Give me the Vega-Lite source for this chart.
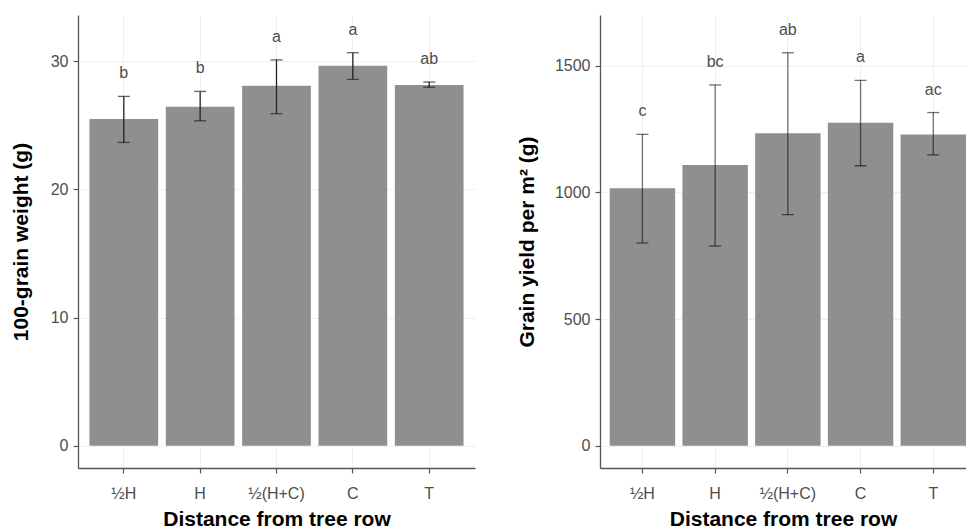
{
  "$schema": "https://vega.github.io/schema/vega-lite/v6.json",
  "padding": {"left": 10, "top": 15, "right": 0, "bottom": 0},
  "background": "white",
  "spacing": 125,
  "bounds": "flush",
  "config": {
    "view": {"stroke": null},
    "font": "Liberation Sans",
    "axis": {
      "labelFont": "Liberation Sans", "labelFontSize": 16, "labelColor": "#4d4d4d",
      "titleFont": "Liberation Sans", "titleFontSize": 21, "titleFontWeight": "bold", "titleColor": "#000000",
      "domainColor": "#555555", "domainWidth": 1.3, "tickColor": "#555555", "tickSize": 5, "tickWidth": 1.2,
      "gridColor": "#f0f0f0", "gridWidth": 1
    },
    "axisX": {"labelPadding": 12, "titlePadding": 7, "labelAngle": 0},
    "axisY": {"labelPadding": 5, "titlePadding": 19}
  },
  "datasets": {
    "weight": [
      {"pos": "½H", "mean": 25.48, "lo": 23.66, "hi": 27.25, "letter": "b"},
      {"pos": "H", "mean": 26.44, "lo": 25.35, "hi": 27.64, "letter": "b"},
      {"pos": "½(H+C)", "mean": 28.08, "lo": 25.9, "hi": 30.1, "letter": "a"},
      {"pos": "C", "mean": 29.64, "lo": 28.58, "hi": 30.66, "letter": "a"},
      {"pos": "T", "mean": 28.13, "lo": 27.96, "hi": 28.37, "letter": "ab"}
    ],
    "yield": [
      {"pos": "½H", "mean": 1016, "lo": 800, "hi": 1229, "letter": "c"},
      {"pos": "H", "mean": 1108, "lo": 788, "hi": 1424, "letter": "bc"},
      {"pos": "½(H+C)", "mean": 1233, "lo": 912, "hi": 1551, "letter": "ab"},
      {"pos": "C", "mean": 1275, "lo": 1105, "hi": 1442, "letter": "a"},
      {"pos": "T", "mean": 1228, "lo": 1148, "hi": 1315, "letter": "ac"}
    ]
  },
  "hconcat": [
    {
      "width": 397,
      "height": 453,
      "data": {"name": "weight"},
      "encoding": {
        "x": {"field": "pos", "type": "nominal", "sort": null,
              "scale": {"paddingInner": 0.1, "paddingOuter": 0.15},
              "axis": {"title": "Distance from tree row", "grid": true}}
      },
      "layer": [
        {"mark": {"type": "bar", "color": "#8f8f8f"},
         "encoding": {
           "y": {"field": "mean", "type": "quantitative", "title": "100-grain weight (g)",
                 "scale": {"domain": [-1.74, 33.6], "nice": false, "zero": false},
                 "axis": {"values": [0, 10, 20, 30], "grid": true, "format": "d"}},
           "y2": {"datum": 0}}},
        {"mark": {"type": "rule", "color": "#222222", "strokeWidth": 1.3},
         "encoding": {"y": {"field": "lo", "type": "quantitative", "title": "100-grain weight (g)"}, "y2": {"field": "hi"}}},
        {"mark": {"type": "tick", "color": "#222222", "thickness": 1.3, "size": 12},
         "encoding": {"y": {"field": "lo", "type": "quantitative", "title": "100-grain weight (g)"}}},
        {"mark": {"type": "tick", "color": "#222222", "thickness": 1.3, "size": 12},
         "encoding": {"y": {"field": "hi", "type": "quantitative", "title": "100-grain weight (g)"}}},
        {"mark": {"type": "text", "dy": -23, "fontSize": 16, "color": "#4d4d4d", "baseline": "middle"},
         "encoding": {"y": {"field": "hi", "type": "quantitative", "title": "100-grain weight (g)"}, "text": {"field": "letter"}}}
      ]
    },
    {
      "width": 366,
      "height": 453,
      "data": {"name": "yield"},
      "encoding": {
        "x": {"field": "pos", "type": "nominal", "sort": null,
              "scale": {"paddingInner": 0.1, "paddingOuter": 0.0667, "align": 1},
              "axis": {"title": "Distance from tree row", "grid": true}}
      },
      "layer": [
        {"mark": {"type": "bar", "color": "#8f8f8f"},
         "encoding": {
           "y": {"field": "mean", "type": "quantitative", "title": "Grain yield per m² (g)",
                 "scale": {"domain": [-88, 1700], "nice": false, "zero": false},
                 "axis": {"values": [0, 500, 1000, 1500], "grid": true, "format": "d", "titlePadding": 17}},
           "y2": {"datum": 0}}},
        {"mark": {"type": "rule", "color": "#000000", "opacity": 0.55, "strokeWidth": 1.3},
         "encoding": {"y": {"field": "lo", "type": "quantitative", "title": "Grain yield per m² (g)"}, "y2": {"field": "hi"}}},
        {"mark": {"type": "tick", "color": "#000000", "opacity": 0.55, "thickness": 1.3, "size": 12},
         "encoding": {"y": {"field": "lo", "type": "quantitative", "title": "Grain yield per m² (g)"}}},
        {"mark": {"type": "tick", "color": "#000000", "opacity": 0.55, "thickness": 1.3, "size": 12},
         "encoding": {"y": {"field": "hi", "type": "quantitative", "title": "Grain yield per m² (g)"}}},
        {"mark": {"type": "text", "dy": -23, "fontSize": 16, "color": "#4d4d4d", "baseline": "middle"},
         "encoding": {"y": {"field": "hi", "type": "quantitative", "title": "Grain yield per m² (g)"}, "text": {"field": "letter"}}}
      ]
    }
  ]
}
